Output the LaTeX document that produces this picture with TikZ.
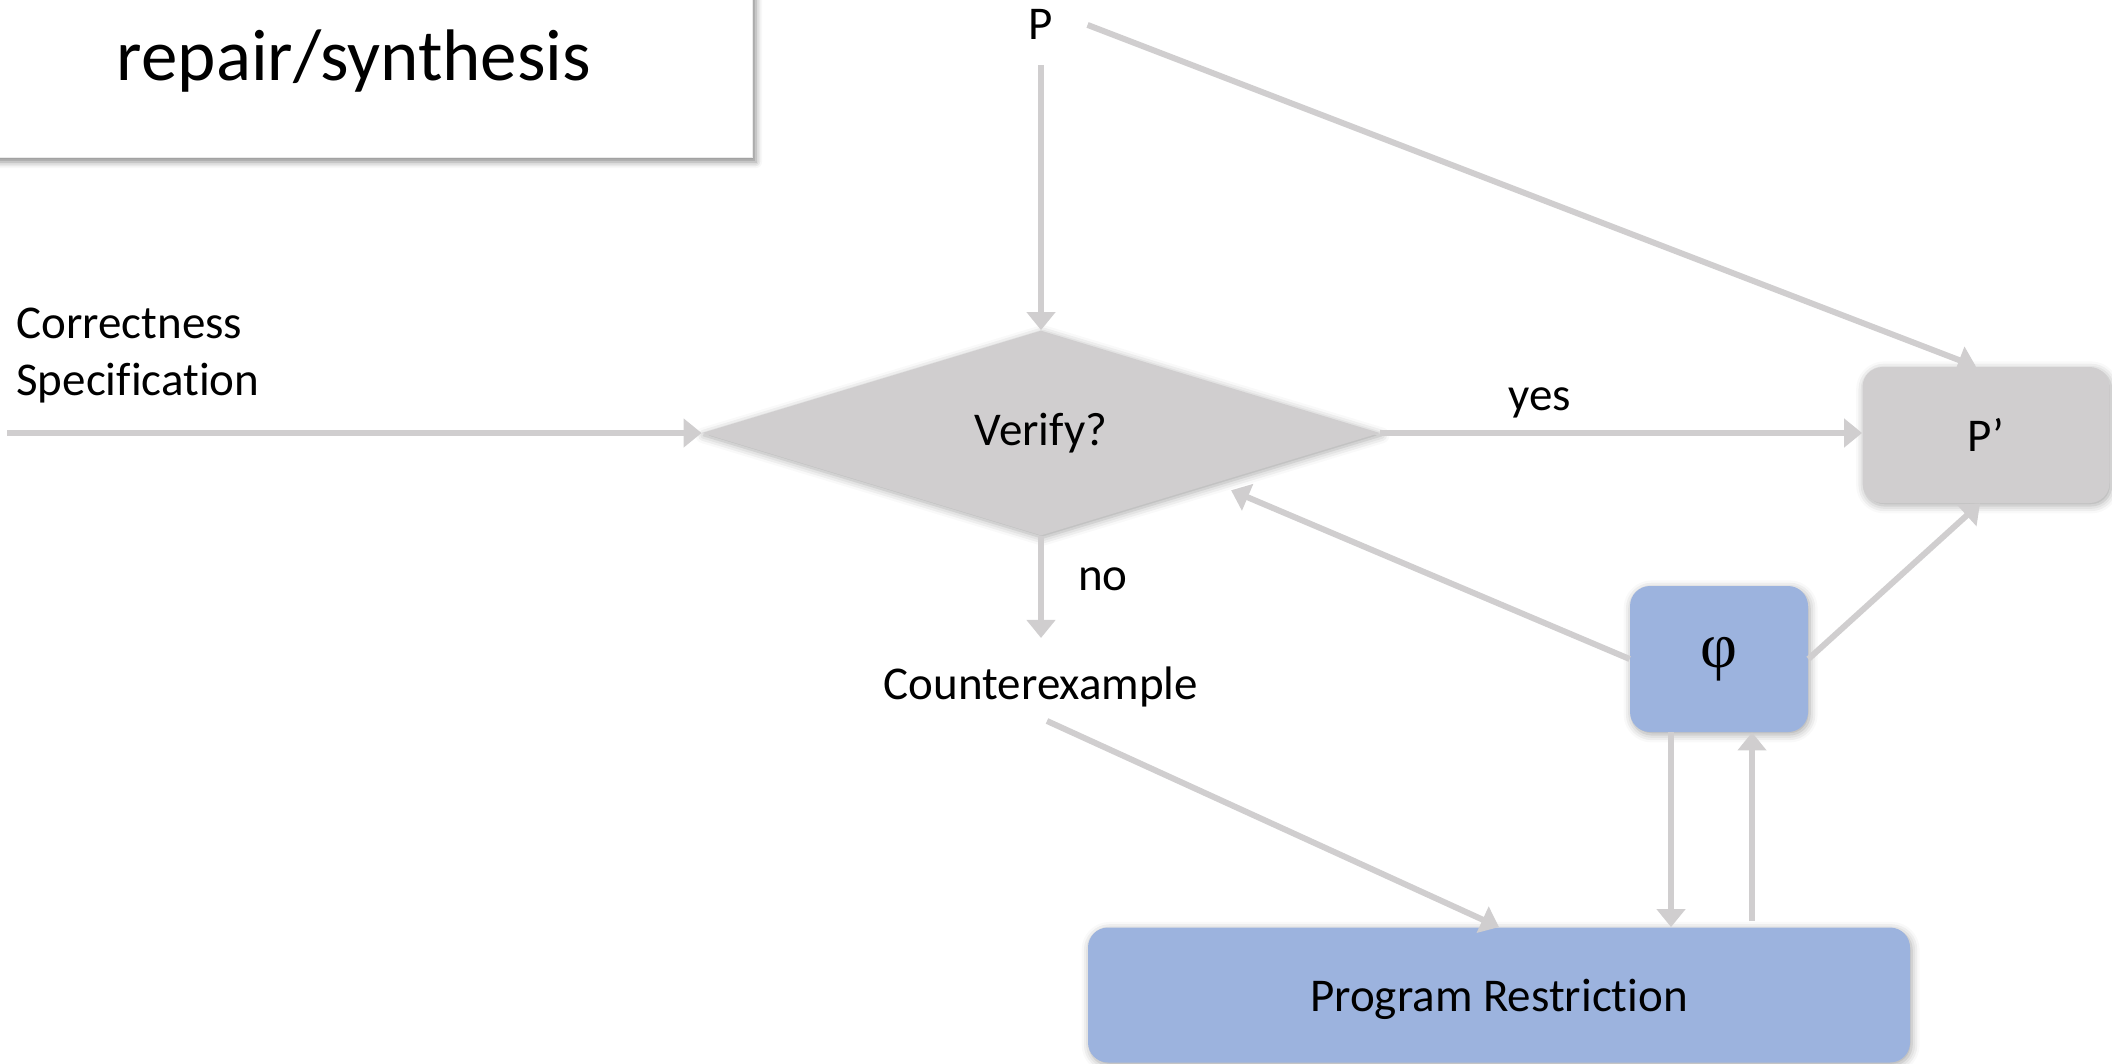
\documentclass[tikz,border=0pt]{standalone}
\usepackage{fontspec}
\setmainfont{Carlito}[Ligatures=NoCommon]
\newfontfamily\phifont{Liberation Serif}
\usetikzlibrary{shapes.geometric,arrows.meta,shadows.blur,calc}
\definecolor{lgrey}{RGB}{208,206,207}
\definecolor{lblue}{RGB}{156,179,222}
\begin{document}
\begin{tikzpicture}[x=0.5pt,y=-0.5pt,
  arr/.style={draw=lgrey, line width=3pt, -{Triangle[length=9pt,width=14pt]}},
  txt/.style={inner sep=0pt, font=\fontsize{23.5}{28.5}\selectfont},
  softshadow/.style={blur shadow={shadow xshift=0.8pt, shadow yshift=-1.2pt, shadow blur radius=4pt, shadow opacity=35}},
  rbox/.style={rounded corners=10pt, inner sep=0pt, softshadow, font=\fontsize{23.5}{28.5}\selectfont},
]
\useasboundingbox (0,0) rectangle (2112,1064);
\clip (0,0) rectangle (2112,1064);

% title box
\node[fill=white, draw=black!8, line width=0.5pt, minimum width=381pt, minimum height=139pt, inner sep=0pt,
  blur shadow={shadow xshift=2pt, shadow yshift=-2pt, shadow blur radius=3pt, shadow opacity=45}] (titlebox) at (371,19) {};
\node[inner sep=0pt, anchor=base, font=\fontsize{36.5}{42}\selectfont] (titletext) at (354,81) {repair/synthesis};

% nodes
\node[txt, anchor=base] (P) at (1041,40) {P};
\node[diamond, fill=lgrey, aspect=3.3, minimum width=339pt, minimum height=102.5pt, inner sep=0pt,
  softshadow, font=\fontsize{23.5}{28.5}\selectfont] (verify) at (1041,433) {Verify?};
\node[rbox, fill=lgrey, minimum width=123.5pt, minimum height=68pt] (ptick) at (1986,435) {P’};
\node[rbox, fill=lblue, minimum width=89pt, minimum height=73pt, font=\phifont\fontsize{32}{38}\selectfont] (phi) at (1719,659) {φ};
\node[rbox, fill=lblue, minimum width=411pt, minimum height=67.5pt, text depth=0pt] (pr) at (1499,995) {Program Restriction};
\node[txt, anchor=base] (cex) at (1041,699) {Counterexample};
\node[txt, anchor=west, align=left] (spec) at (16,356) {Correctness\\Specification};
\coordinate (specstart) at (7,433);

% connectors
\draw[arr, shorten <=12.5pt] (P.south) -- (verify.north);
\draw[arr] ([xshift=17pt]P.east) -- ([xshift=-5pt]ptick.north);
\draw[arr] (specstart) -- (verify.west);
\draw[arr] (verify.east) -- (verify.east -| ptick.west);
\node[txt, anchor=base] (yes) at (1540,410) {yes};
\draw[arr, shorten >=14pt] (verify.south) -- (cex.north);
\node[txt, anchor=base] (no) at (1103,590) {no};
\draw[arr] ([xshift=3pt,yshift=-7pt]cex.south) -- (pr.north);
\draw[arr] (phi.west) -- ($(verify.east)!0.44!(verify.south)+(0,12)$);
\draw[arr] (phi.east) -- ([xshift=-3pt]ptick.south);
\draw[arr] ([xshift=-24pt]phi.south) -- ([xshift=-24pt]phi.south |- pr.north);
\draw[arr, shorten <=3pt] ([xshift=16.5pt]phi.south |- pr.north) -- ([xshift=16.5pt]phi.south);
\end{tikzpicture}
\end{document}
